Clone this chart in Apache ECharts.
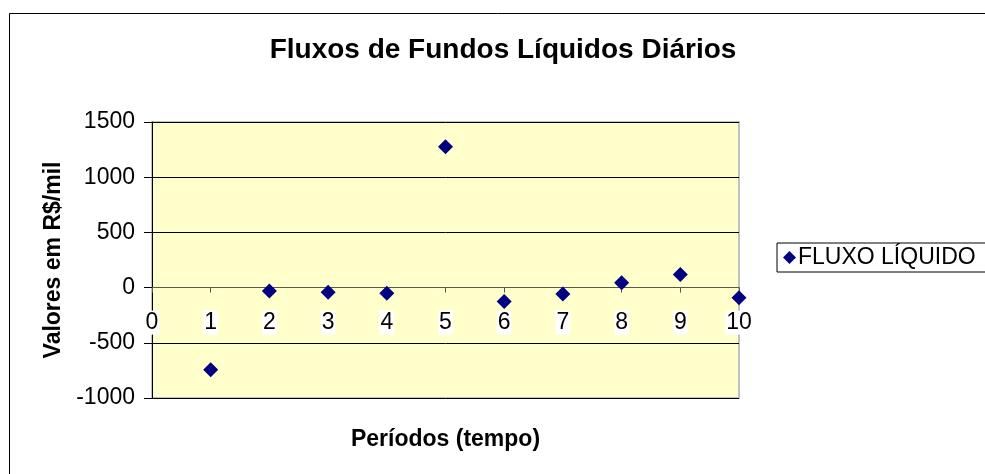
<!DOCTYPE html>
<html>
<head>
<meta charset="utf-8">
<script src="https://cdn.jsdelivr.net/npm/echarts@6/dist/echarts.min.js"></script>
<style>
  html, body { margin: 0; padding: 0; background: #fff; }
  #chart { width: 985px; height: 474px; }
</style>
</head>
<body>
<div id="chart"></div>
<script>
// periodos (eixo x) e fluxo liquido diario (R$/mil)
var periodos = [1, 2, 3, 4, 5, 6, 7, 8, 9, 10];
var fluxoLiquido = [-745, -30, -42, -51, 1276, -127, -57, 43, 118, -93];
var yTicks = [-1000, -500, 0, 500, 1000, 1500];

var font = '"Liberation Sans", Arial, sans-serif';
var gridTop = 122, gridH = 276;
// o eixo x cruza o y no zero: desloca o eixo da base ate a linha do zero
var yMin = yTicks[0], yMax = yTicks[yTicks.length - 1];
var zeroOffset = -gridH * (0 - yMin) / (yMax - yMin);

var chart = echarts.init(document.getElementById('chart'));
chart.setOption({
  animation: false,
  backgroundColor: '#fff',
  textStyle: { fontFamily: font },
  title: {
    text: 'Fluxos de Fundos Líquidos Diários',
    left: 498,
    textAlign: 'center',
    top: 31,
    textStyle: { fontSize: 28, fontWeight: 'bold', color: '#000', fontFamily: font }
  },
  graphic: [{
    type: 'rect',
    shape: { x: 9.5, y: 13.5, width: 1000, height: 500 },
    style: { fill: 'none', stroke: '#000', lineWidth: 1 },
    z: -10
  }, {
    // borda cinza da area de plotagem
    type: 'rect',
    shape: { x: 152, y: gridTop, width: 587, height: gridH },
    style: { fill: '#FFFFCC', stroke: '#c0c0c0', lineWidth: 2 },
    z: -5
  }],
  legend: {
    left: 777,
    top: 243,
    orient: 'vertical',
    itemWidth: 13,
    itemHeight: 13,
    itemGap: 0,
    padding: [3, 10, 3, 6],
    borderColor: '#000',
    borderWidth: 1,
    textStyle: { fontSize: 23, color: '#000', fontFamily: font, padding: [0, 0, 0, -3] },
    data: [{ name: 'FLUXO LÍQUIDO', icon: 'diamond' }]
  },
  grid: { left: 152, top: gridTop, width: 587, height: gridH, outerBoundsMode: 'none' },
  xAxis: {
    type: 'value',
    min: 0,
    max: 10,
    interval: 1,
    offset: zeroOffset,
    name: 'Períodos (tempo)',
    nameLocation: 'middle',
    nameGap: 141,
    nameTextStyle: { fontSize: 23, fontWeight: 'bold', color: '#000', fontFamily: font },
    axisLine: { onZero: false, lineStyle: { color: '#5a5a48', width: 1 } },
    axisTick: { show: true, inside: false, length: 5, lineStyle: { color: '#555' } },
    axisLabel: {
      fontSize: 23, color: '#000', fontFamily: font, margin: 23,
      backgroundColor: '#fff', padding: [1, 1, 0, 1]
    },
    splitLine: { show: false }
  },
  yAxis: {
    type: 'value',
    min: yMin,
    max: yMax,
    interval: 500,
    name: 'Valores em R$/mil',
    nameLocation: 'middle',
    nameGap: 86,
    nameTextStyle: { fontSize: 23, fontWeight: 'bold', color: '#000', fontFamily: font },
    axisLine: { show: true, lineStyle: { color: '#000', width: 1 } },
    axisTick: { show: true, length: 8, lineStyle: { color: '#000' } },
    axisLabel: {
      fontSize: 23, color: '#000', fontFamily: font, margin: 17,
      formatter: function (v) { return String(v); }
    },
    splitLine: { show: true, lineStyle: { color: '#000', width: 1 } }
  },
  series: [{
    name: 'FLUXO LÍQUIDO',
    type: 'scatter',
    symbol: 'diamond',
    symbolSize: 15,
    itemStyle: { color: '#000080', opacity: 1 },
    data: periodos.map(function (p, i) { return [p, fluxoLiquido[i]]; })
  }]
});
</script>
</body>
</html>
